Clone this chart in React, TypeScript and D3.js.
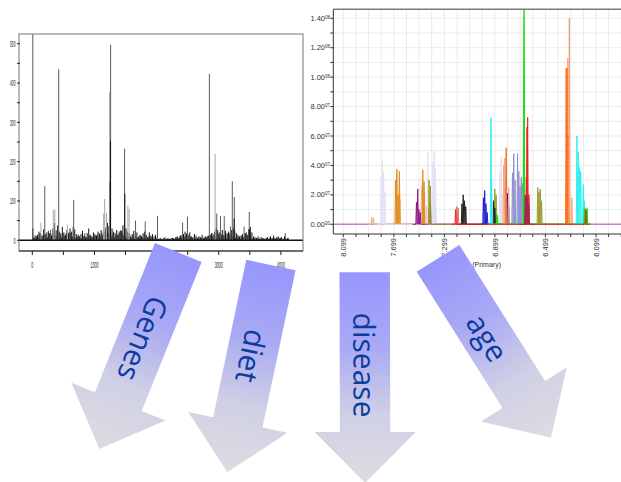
import React from "react";
import * as d3 from "d3";

// ---------- Left panel: 1D spectrum (index vs intensity) ----------
const noiseStep = 25;
const noiseHeights = [
  30, 6, 10, 14, 22, 18, 12, 28, 16, 20,
  24, 18, 12, 30, 44, 26, 38, 22, 18, 34,
  20, 14, 26, 18, 30, 22, 34, 28, 16, 12,
  10, 16, 24, 12, 8, 18, 30, 14, 10, 20,
  16, 12, 22, 18, 26, 14, 20, 32, 44, 36,
  40, 30, 22, 18, 26, 14, 20, 24, 38, 44,
  30, 22, 18, 10, 16, 24, 12, 20, 8, 14,
  10, 18, 22, 14, 8, 20, 12, 16, 10, 14,
  8, 4, 6, 3, 5, 8, 4, 6, 3, 5,
  6, 4, 8, 10, 6, 12, 8, 16, 22, 18,
  14, 20, 10, 8, 16, 12, 6, 10, 8, 14,
  6, 10, 8, 12, 14, 18, 10, 22, 30, 26,
  20, 16, 26, 14, 24, 18, 22, 12, 26, 30,
  24, 18, 14, 10, 12, 16, 8, 18, 14, 28,
  34, 20, 10, 8, 6, 10, 5, 8, 6, 4,
  5, 8, 4, 10, 6, 12, 5, 8, 10, 6,
  8, 4, 10, 3, 6,
];
const spikePos = [0, 193, 130, 330, 355, 417, 560, 658, 1140, 1156, 1185, 1236, 1252, 1250, 1245, 1477, 1480, 1530, 1550, 1653, 1809, 2006, 2410, 2488, 2841, 2933, 2960, 3020, 3080, 3180, 3210, 3242, 3240, 3400, 3483, 3490];
const spikeHeight = [560, 138, 45, 78, 78, 435, 40, 103, 68, 105, 70, 378, 497, 253, 150, 233, 118, 88, 80, 50, 48, 62, 45, 60, 424, 220, 68, 62, 62, 35, 150, 110, 55, 35, 72, 28];
const spikeTone = ["d", "d", "g", "g", "g", "d", "g", "d", "g", "g", "g", "g", "d", "k", "k", "d", "k", "g", "g", "d", "d", "d", "d", "d", "d", "g", "d", "d", "d", "d", "d", "d", "k", "d", "d", "k"];
const leftYTicks = [0, 100, 200, 300, 400, 500];
const leftXTicks = [0, 1000, 2000, 3000, 4000];

// ---------- Right panel: overlaid NMR traces (ppm vs intensity, ×1e7) ----------
const seriesNames = ["tan", "orange", "lavender", "purple", "olive", "salmon", "black", "blue", "cyan", "lightSalmon", "orangeRed", "salmonLine", "periwinkle", "green", "red", "maroon"];
const seriesPeaks: [number, number][][] = [
  [[7.875, 0.5], [7.865, 0.35], [7.86, 0.45], [7.66, 2.0], [7.65, 1.7], [7.48, 2.6], [7.47, 1.8], [7.455, 2.2], [7.44, 1.2], [7.38, 1.7], [7.37, 1.2]],
  [[7.685, 3.0], [7.675, 3.75], [7.665, 2.0], [7.655, 3.6], [7.47, 3.7], [7.46, 2.9]],
  [[7.80, 3.2], [7.79, 4.4], [7.78, 3.6], [7.77, 2.2], [7.43, 4.9], [7.42, 3.0], [7.39, 4.2], [7.38, 5.0], [7.37, 3.8], [6.86, 3.6], [6.85, 4.6], [6.84, 2.0]],
  [[7.52, 1.5], [7.51, 2.4], [7.50, 1.0], [7.49, 0.8], [7.42, 1.0], [7.41, 1.5], [6.80, 0.8]],
  [[7.42, 3.0], [7.41, 2.6], [6.90, 2.4], [6.89, 2.0], [6.56, 2.5], [6.55, 2.2], [6.54, 2.4], [6.53, 1.6]],
  [[7.20, 1.2], [7.19, 1.1]],
  [[7.16, 1.4], [7.15, 2.0], [7.14, 1.6], [7.13, 1.2], [6.91, 1.6], [6.90, 1.1], [6.80, 1.8]],
  [[6.99, 1.8], [6.98, 2.3], [6.97, 1.4], [6.96, 0.8], [6.80, 2.1], [6.79, 1.2]],
  [[6.93, 7.27], [6.925, 3.0], [6.25, 6.0], [6.24, 4.9], [6.23, 3.9], [6.22, 3.6], [6.20, 2.7], [6.19, 1.6]],
  [[6.83, 4.0], [6.82, 4.5], [6.81, 3.2], [6.79, 2.5], [6.322, 11.3], [6.29, 1.8]],
  [[6.81, 5.2], [6.335, 10.6], [6.328, 10.6], [6.32, 6.0], [6.315, 2.0]],
  [[6.31, 14.0]],
  [[6.76, 3.5], [6.75, 4.8], [6.74, 3.0], [6.72, 4.8], [6.71, 3.6], [6.70, 2.6], [6.69, 3.2], [6.68, 2.8]],
  [[6.669, 16], [6.88, 0.6], [6.19, 1.1], [6.18, 0.9], [6.17, 1.1]],
  [[6.64, 7.27], [6.645, 6.6], [6.65, 3.2], [6.63, 2.0], [7.21, 1.0], [6.18, 1.0]],
  [[6.66, 2.0], [6.65, 1.8], [6.64, 1.9], [6.63, 1.4]],
];
const seriesColors = ["#e8c08a", "#e38a1e", "#e2e2f6", "#8e1a8e", "#9b9b30", "#f26868", "#222222", "#2020d0", "#2ef0f0", "#f7a583", "#ff6e1e", "#f59a70", "#9090d0", "#19e019", "#ee2020", "#a0284a"];
const rightXTicks = [8.099, 7.699, 7.299, 6.899, 6.499, 6.099];
const rightYTicks = [0, 2, 4, 6, 8, 10, 12, 14];

// ---------- Arrows ----------
const arrowLabels = ["Genes", "diet", "disease", "age"];
const arrowStarts: [number, number][] = [[178.3, 252.5], [270.9, 265], [364.7, 272.3], [438, 258.4]];
const arrowTips: [number, number][] = [[99.3, 449], [227.3, 472.3], [365.2, 483], [551, 437.7]];

function arrowGeom(from: [number, number], to: [number, number]) {
  const dx = to[0] - from[0], dy = to[1] - from[1];
  const len = Math.hypot(dx, dy);
  const ux = dx / len, uy = dy / len;
  const nx = -uy, ny = ux;
  const sw = 25.2, hw = 50.6, hl = 51;
  const bx = to[0] - ux * hl, by = to[1] - uy * hl;
  const pts: [number, number][] = [
    [from[0] + nx * sw, from[1] + ny * sw],
    [bx + nx * sw, by + ny * sw],
    [bx + nx * hw, by + ny * hw],
    to,
    [bx - nx * hw, by - ny * hw],
    [bx - nx * sw, by - ny * sw],
    [from[0] - nx * sw, from[1] - ny * sw],
  ];
  const t = 0.44;
  return {
    path: d3.line()(pts)! + "Z",
    tx: from[0] + dx * t,
    ty: from[1] + dy * t,
    angle: (Math.atan2(dy, dx) * 180) / Math.PI,
  };
}

export default function App() {
  // Left panel scales
  const lx = d3.scaleLinear().domain([0, 4000]).range([32.3, 280.9]);
  const ly = d3.scaleLinear().domain([0, 500]).range([240.3, 43.7]);
  const L = { x0: 19, x1: 303, y0: 34, y1: 251 };

  // Right panel scales
  const rx = d3.scaleLinear().domain([8.099, 6.099]).range([343.3, 596]);
  const ry = d3.scaleLinear().domain([0, 14]).range([224.3, 18.3]);
  const R = { x0: 333.3, x1: 622, y0: 9.3, y1: 234 };
  const ppmMin = rx.invert(R.x1), ppmMax = rx.invert(R.x0);
  const gridPpm = d3.range(Math.ceil((ppmMin - 8.099) / 0.1), Math.floor((ppmMax - 8.099) / 0.1) + 1).map((k) => 8.099 + k * 0.1);
  const gridY = d3.range(0, 15, 1);

  const hw = 0.005;
  const traceLine = d3.line<[number, number]>().x((d) => rx(d[0])).y((d) => ry(d[1]));
  const tracePath = (peaks: [number, number][]) => {
    const sorted = [...peaks].sort((a, b) => b[0] - a[0]);
    const pts: [number, number][] = [[sorted[0][0] + 0.03, 0]];
    sorted.forEach(([p, h]) => {
      pts.push([p + hw, 0], [p, h], [p - hw, 0]);
    });
    pts.push([sorted[sorted.length - 1][0] - 0.03, 0]);
    return traceLine(pts)!;
  };

  const toneColor: Record<string, string> = { d: "#5a5a5a", g: "#a8a8a8", k: "#111111" };
  const noisePos = noiseHeights.map((_, i) => i * noiseStep);

  return (
    <svg width={621} height={482} style={{ position: "absolute", left: 0, top: 0, background: "#fff" }}>
      <defs>
        <clipPath id="leftClip">
          <rect x={L.x0} y={L.y0} width={L.x1 - L.x0} height={L.y1 - L.y0} />
        </clipPath>
        <clipPath id="rightClip">
          <rect x={R.x0} y={R.y0} width={R.x1 - R.x0} height={R.y1 - R.y0} />
        </clipPath>
        {arrowLabels.map((_, i) => (
          <linearGradient key={i} id={`ag${i}`} gradientUnits="userSpaceOnUse" x1={arrowStarts[i][0]} y1={arrowStarts[i][1]} x2={arrowTips[i][0]} y2={arrowTips[i][1]}>
            <stop offset="0" stopColor="#9696fd" />
            <stop offset="0.35" stopColor="#a9a9f4" />
            <stop offset="0.68" stopColor="#d0d0e6" />
            <stop offset="1" stopColor="#dcdce0" />
          </linearGradient>
        ))}
      </defs>

      {/* ---------- Left spectrum ---------- */}
      <g clipPath="url(#leftClip)">
        {noisePos.map((p, i) => (
          <line key={`n${i}`} x1={lx(p) + 0.5} x2={lx(p) + 0.5} y1={ly(0)} y2={ly(noiseHeights[i])} stroke="#111" strokeWidth={1} />
        ))}
        {noisePos.map((p, i) => (
          <line key={`m${i}`} x1={lx(p + 12) + 0.5} x2={lx(p + 12) + 0.5} y1={ly(0)} y2={ly(noiseHeights[(i + 3) % noiseHeights.length] * 0.6)} stroke="#222" strokeWidth={0.8} />
        ))}
        {spikePos.map((p, i) => (
          <line key={`s${i}`} x1={lx(p) + 0.5} x2={lx(p) + 0.5} y1={ly(0)} y2={ly(spikeHeight[i])} stroke={toneColor[spikeTone[i]]} strokeWidth={1} />
        ))}
        <line x1={L.x0} x2={L.x1} y1={ly(0)} y2={ly(0)} stroke="#111" strokeWidth={1.6} />
      </g>
      <rect x={L.x0} y={L.y0} width={L.x1 - L.x0} height={L.y1 - L.y0} fill="none" stroke="#777" strokeWidth={1} />
      <line x1={L.x0} x2={L.x1} y1={L.y1} y2={L.y1} stroke="#222" strokeWidth={1} />
      {d3.range(0, 4001, 500).map((v) => (
        <line key={`lxt${v}`} x1={lx(v)} x2={lx(v)} y1={L.y1} y2={L.y1 + 4} stroke="#222" strokeWidth={1} />
      ))}
      {leftXTicks.map((v) => (
        <text key={`lxl${v}`} x={lx(v)} y={268} fontSize={9} fontFamily="'Liberation Sans Narrow', 'Liberation Sans', sans-serif" textAnchor="middle" fill="#222" textLength={v === 0 ? 2 : 8} lengthAdjust="spacingAndGlyphs">
          {v}
        </text>
      ))}
      {d3.range(0, 501, 50).map((v) => (
        <line key={`lyt${v}`} x1={L.x0 - 2} x2={L.x0 + 1} y1={ly(v)} y2={ly(v)} stroke="#222" strokeWidth={1} />
      ))}
      {leftYTicks.map((v) => (
        <text key={`lyl${v}`} x={15.5} y={ly(v) + 3.2} fontSize={9} fontFamily="'Liberation Sans Narrow', 'Liberation Sans', sans-serif" textAnchor="end" fill="#222" textLength={v === 0 ? 2 : 5.5} lengthAdjust="spacingAndGlyphs">
          {v}
        </text>
      ))}

      {/* ---------- Right NMR overlay ---------- */}
      <g clipPath="url(#rightClip)">
        {gridPpm.map((p, i) => (
          <line key={`gx${i}`} x1={rx(p)} x2={rx(p)} y1={R.y0} y2={R.y1} stroke="#ebebeb" strokeWidth={1} />
        ))}
        {gridY.map((v) => (
          <line key={`gy${v}`} x1={R.x0} x2={R.x1} y1={ry(v)} y2={ry(v)} stroke="#ebebeb" strokeWidth={1} />
        ))}
        <line x1={R.x0} x2={R.x1} y1={ry(0)} y2={ry(0)} stroke="#d279d2" strokeWidth={1.6} />
        {seriesPeaks.map((pk, i) => (
          <path key={seriesNames[i]} d={tracePath(pk)} fill="none" stroke={seriesColors[i]} strokeWidth={i === 13 ? 1.4 : 1} strokeLinejoin="round" />
        ))}
      </g>
      <line x1={R.x0} x2={R.x1} y1={R.y0} y2={R.y0} stroke="#7a7a7a" strokeWidth={1.5} />
      <line x1={R.x0} x2={R.x0} y1={R.y0} y2={R.y1} stroke="#333" strokeWidth={1} />
      <line x1={R.x0} x2={R.x1} y1={R.y1} y2={R.y1} stroke="#333" strokeWidth={1} />
      {gridPpm.map((p, i) => (
        <line key={`rxt${i}`} x1={rx(p)} x2={rx(p)} y1={R.y1} y2={R.y1 + 3} stroke="#333" strokeWidth={1} />
      ))}
      {rightXTicks.map((p) => (
        <text key={`rxl${p}`} transform={`translate(${rx(p)},${R.y1 + 4}) rotate(-90)`} dy="0.35em" fontSize={7.5} fontFamily="'Liberation Sans', Arial, sans-serif" textAnchor="end" fill="#333">
          {p.toFixed(3)}
        </text>
      ))}
      {gridY.map((v) => (
        <line key={`ryt${v}`} x1={R.x0 - 3} x2={R.x0} y1={ry(v)} y2={ry(v)} stroke="#333" strokeWidth={1} />
      ))}
      {rightYTicks.map((v) => (
        <text key={`ryl${v}`} x={330} y={ry(v) + 2.6} fontSize={7.5} fontFamily="'Liberation Sans', Arial, sans-serif" textAnchor="end" fill="#333">
          {(v >= 10 ? v / 10 : v).toFixed(2)}
          <tspan fontSize={4.5} dy={-2}>{v === 0 ? "00" : v >= 10 ? "08" : "07"}</tspan>
        </text>
      ))}
      <text x={501} y={267} fontSize={7} fontFamily="'Liberation Sans', Arial, sans-serif" textAnchor="end" fill="#333">
        ppm (Primary)
      </text>

      {/* ---------- Arrows ---------- */}
      {arrowLabels.map((label, i) => {
        const g = arrowGeom(arrowStarts[i], arrowTips[i]);
        return (
          <g key={label}>
            <path d={g.path} fill={`url(#ag${i})`} />
            <text transform={`translate(${g.tx},${g.ty}) rotate(${g.angle})`} textAnchor="middle" dominantBaseline="central" fontSize={30} fontFamily="'Open Sans', 'Noto Sans', sans-serif" fill="#0b3c9e">
              {label}
            </text>
          </g>
        );
      })}
    </svg>
  );
}
